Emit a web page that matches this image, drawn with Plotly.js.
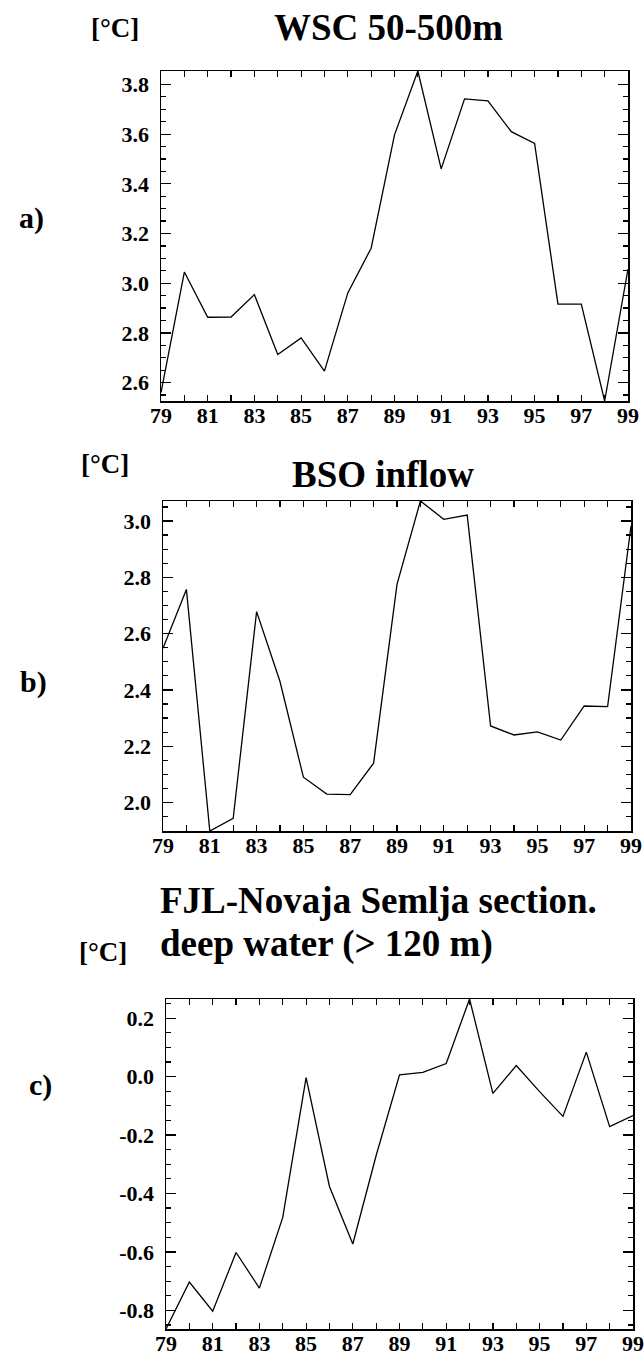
<!DOCTYPE html>
<html>
<head>
<meta charset="utf-8">
<script src="https://cdn.plot.ly/plotly-3.0.1.min.js"></script>
<style>html,body{margin:0;padding:0;background:#fff;}#chart{width:644px;height:1362px;}</style>
</head>
<body>
<div id="chart"></div>
<script>
// Years (2-digit)
const years = [79,80,81,82,83,84,85,86,87,88,89,90,91,92,93,94,95,96,97,98,99];

// a) WSC 50-500m temperature [°C]
const wscTemp = [2.56,3.045,2.863,2.864,2.954,2.713,2.780,2.646,2.961,3.141,3.597,3.854,3.460,3.742,3.734,3.610,3.563,2.916,2.916,2.526,3.057];

// b) BSO inflow temperature [°C]
const bsoTemp = [2.548,2.757,1.899,1.944,2.678,2.430,2.090,2.030,2.028,2.140,2.775,3.071,3.006,3.021,2.272,2.240,2.251,2.222,2.343,2.341,2.982];

// c) FJL-Novaja Semlja section, deep water (> 120 m) [°C]
const fjlTemp = [-0.864,-0.703,-0.803,-0.602,-0.724,-0.482,-0.003,-0.376,-0.573,-0.27,0.006,0.015,0.045,0.266,-0.057,0.038,-0.051,-0.136,0.084,-0.171,-0.133];

// Tick labels
const aTickVals = [2.6,2.8,3.0,3.2,3.4,3.6,3.8];
const aTickText = ["2.6","2.8","3.0","3.2","3.4","3.6","3.8"];
const bTickVals = [2.0,2.2,2.4,2.6,2.8,3.0];
const bTickText = ["2.0","2.2","2.4","2.6","2.8","3.0"];
const cTickVals = [-0.8,-0.6,-0.4,-0.2,0.0,0.2];
const cTickText = ["-0.8","-0.6","-0.4","-0.2","0.0","0.2"];

const titleA = "WSC 50-500m";
const titleB = "BSO inflow";
const titleC1 = "FJL-Novaja Semlja section.";
const titleC2 = "deep water (> 120 m)";
const panelLabels = ["a)", "b)", "c)"];
const unitLabel = "[°C]";

const W = 644, H = 1362;
const px = v => v / W;
const py = v => 1 - v / H;

const FONT = "Liberation Serif";
const tickFont = {family: FONT, size: 22, color: "#000", weight: "bold"};

function xAxis(dom) {
  return {
    domain: dom, range: [79, 99], tickmode: "linear", tick0: 79, dtick: 2,
    ticks: "inside", ticklen: 6, tickwidth: 1.2, tickcolor: "#000",
    minor: {tickmode: "linear", tick0: 79, dtick: 1, ticks: "inside", ticklen: 6, tickwidth: 1.2, tickcolor: "#000"},
    showline: true, linecolor: "#000", linewidth: 1.5, mirror: "ticks",
    showgrid: false, zeroline: false, tickfont: tickFont, ticklabelstandoff: -6, fixedrange: true
  };
}
function yAxis(dom, vals, txt, data) {
  return {
    domain: dom, range: [Math.min(...data), Math.max(...data)],
    tickmode: "array", tickvals: vals, ticktext: txt,
    ticks: "inside", ticklen: 10, tickwidth: 1.2, tickcolor: "#000",
    minor: {tickmode: "linear", tick0: 0, dtick: 0.05, ticks: "inside", ticklen: 5, tickwidth: 1.2, tickcolor: "#000"},
    showline: true, linecolor: "#000", linewidth: 1.5, mirror: "ticks",
    showgrid: false, zeroline: false, tickfont: tickFont, ticklabelstandoff: 6, fixedrange: true
  };
}

const lineStyle = {color: "#000", width: 1.3};
const traces = [
  {x: years, y: wscTemp, type: "scatter", mode: "lines", line: lineStyle, xaxis: "x", yaxis: "y", hoverinfo: "skip"},
  {x: years, y: bsoTemp, type: "scatter", mode: "lines", line: lineStyle, xaxis: "x2", yaxis: "y2", hoverinfo: "skip"},
  {x: years, y: fjlTemp, type: "scatter", mode: "lines", line: lineStyle, xaxis: "x3", yaxis: "y3", hoverinfo: "skip"}
];

function ann(text, x, y, size, xanchor) {
  return {text: text, x: px(x), y: py(y), xref: "paper", yref: "paper", showarrow: false,
          xanchor: xanchor || "center", yanchor: "middle", align: "left",
          font: {family: FONT, size: size, color: "#000", weight: "bold"}};
}

const layout = {
  width: W, height: H, margin: {l: 0, r: 0, t: 0, b: 0},
  paper_bgcolor: "#fff", plot_bgcolor: "#fff", showlegend: false,
  font: {family: FONT, color: "#000"},
  xaxis: Object.assign(xAxis([px(161), px(628)]), {anchor: "y"}),
  yaxis: Object.assign(yAxis([py(401), py(71)], aTickVals, aTickText, wscTemp), {anchor: "x"}),
  xaxis2: Object.assign(xAxis([px(163), px(631)]), {anchor: "y2"}),
  yaxis2: Object.assign(yAxis([py(831), py(501)], bTickVals, bTickText, bsoTemp), {anchor: "x2"}),
  xaxis3: Object.assign(xAxis([px(166), px(633)]), {anchor: "y3"}),
  yaxis3: Object.assign(yAxis([py(1329), py(999)], cTickVals, cTickText, fjlTemp), {anchor: "x3"}),
  annotations: [
    ann(titleA, 388, 27, 37),
    ann(unitLabel, 115, 28, 27),
    ann(panelLabels[0], 31, 218, 30),
    ann(titleB, 383, 475, 37),
    ann(unitLabel, 105, 464, 27),
    ann(panelLabels[1], 33, 682, 30),
    ann(titleC1, 158, 900, 37, "left"),
    ann(titleC2, 158, 944, 37, "left"),
    ann(unitLabel, 103, 952, 27),
    ann(panelLabels[2], 40, 1085, 30)
  ]
};

Plotly.newPlot("chart", traces, layout, {staticPlot: true, displayModeBar: false});
</script>
</body>
</html>
